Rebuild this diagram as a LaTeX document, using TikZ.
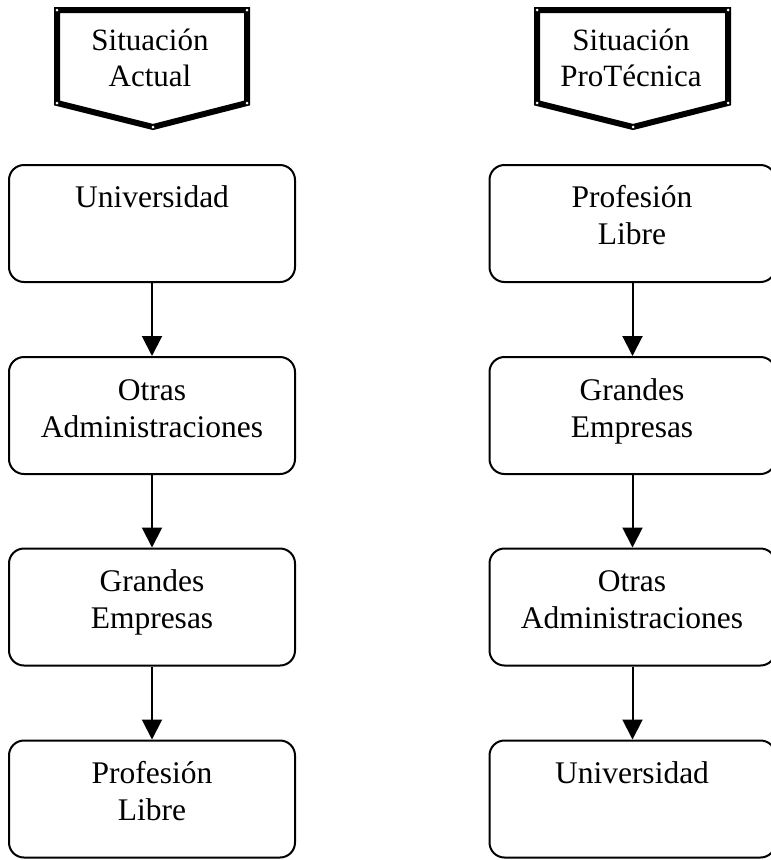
\documentclass[tikz,border=0pt]{standalone}
\usepackage{fontspec}
\setmainfont{Liberation Serif}
\usetikzlibrary{arrows.meta}
\begin{document}
\begin{tikzpicture}[x=1pt,y=-1pt,
  box/.style={draw,line width=2pt,rounded corners=15pt,minimum width=286pt,minimum height=117pt,inner sep=0pt},
  lbl/.style={anchor=north,inner sep=0pt,align=center,font=\fontsize{31.5}{37}\selectfont},
  hlbl/.style={anchor=north,inner sep=0pt,align=center,font=\fontsize{31}{36}\selectfont},
  conn/.style={line width=2pt,-{Triangle[width=20pt,length=20pt]}},
  hdr/.style={draw,line width=6pt,fill=white},
  dot/.style={circle,fill=white,inner sep=0pt,minimum size=3pt}
]
\useasboundingbox (0,0) rectangle (771,860);
\clip (0,0) rectangle (771,860);

% Header shapes
\draw[hdr] (57,10) -- (247,10) -- (247,103) -- (153,127) -- (57,103) -- cycle;
\foreach \p in {(57,10),(247,10),(247,103),(153,127),(57,103)}
  \node[dot] at \p {};
\node[hlbl] (hA) at (150,20) {\rule{0pt}{30pt}Situación\\Actual};

\draw[hdr] (537,10) -- (728,10) -- (728,103) -- (633,127) -- (537,103) -- cycle;
\foreach \p in {(537,10),(728,10),(728,103),(633,127),(537,103)}
  \node[dot] at \p {};
\node[hlbl] (hB) at (631,20) {\rule{0pt}{30pt}Situación\\ProTécnica};

% Left column
\node[box] (L1) at (152,223.5) {};
\node[box] (L2) at (152,415.5) {};
\node[box] (L3) at (152,607) {};
\node[box] (L4) at (152,799) {};
\node[lbl] (tL1) at (152,177) {\rule{0pt}{30pt}Universidad};
\node[lbl] (tL2) at (152,370) {\rule{0pt}{30pt}Otras\\Administraciones};
\node[lbl] (tL3) at (152,561) {\rule{0pt}{30pt}Grandes\\Empresas};
\node[lbl] (tL4) at (152,753) {\rule{0pt}{30pt}Profesión\\Libre};

% Right column
\node[box] (R1) at (632.5,223.5) {};
\node[box] (R2) at (632.5,415.5) {};
\node[box] (R3) at (632.5,607) {};
\node[box] (R4) at (632.5,799) {};
\node[lbl] (tR1) at (632,177) {\rule{0pt}{30pt}Profesión\\Libre};
\node[lbl] (tR2) at (632,370) {\rule{0pt}{30pt}Grandes\\Empresas};
\node[lbl] (tR3) at (632,561) {\rule{0pt}{30pt}Otras\\Administraciones};
\node[lbl] (tR4) at (632,753) {\rule{0pt}{30pt}Universidad};

% Connectors
\draw[conn] (L1.south) -- (L2.north);
\draw[conn] (L2.south) -- (L3.north);
\draw[conn] (L3.south) -- (L4.north);
\draw[conn] (R1.south) -- (R2.north);
\draw[conn] (R2.south) -- (R3.north);
\draw[conn] (R3.south) -- (R4.north);
\end{tikzpicture}
\end{document}
